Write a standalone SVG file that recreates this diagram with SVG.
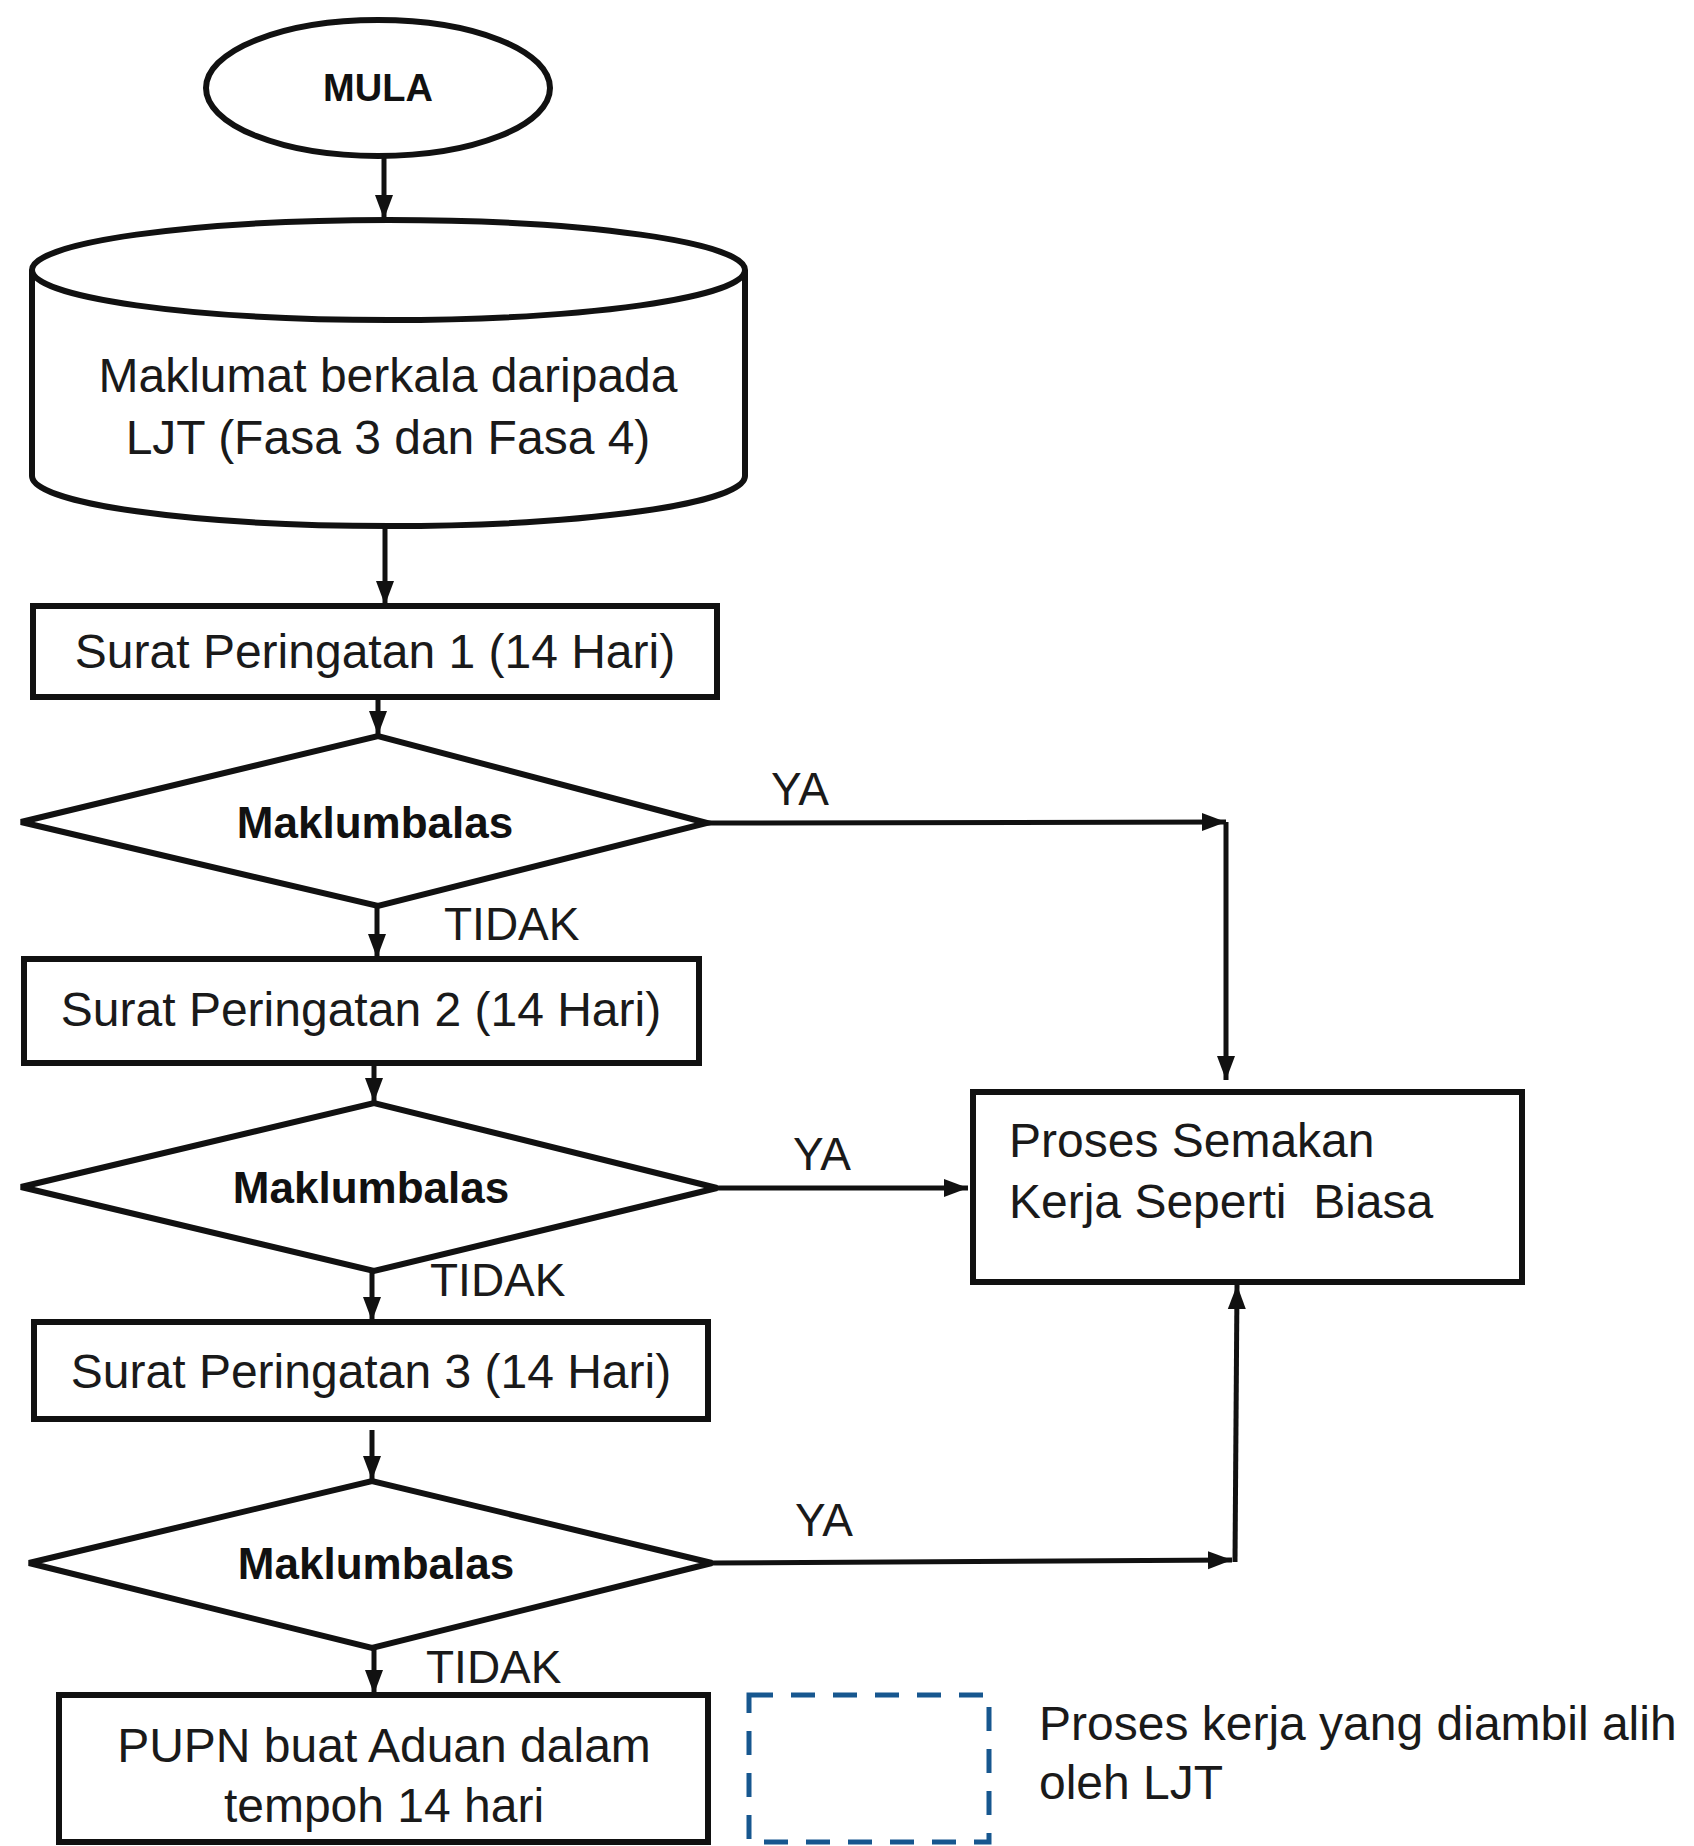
<svg xmlns="http://www.w3.org/2000/svg" width="1694" height="1846" viewBox="0 0 1694 1846">
<defs>
<style>
.shape{fill:#fff;stroke:#111;stroke-width:6}
.t{font-family:"Liberation Sans",Arial,sans-serif;font-size:48px;fill:#1a1a1a}
.c{text-anchor:middle}
.b{font-weight:bold;font-size:44px;fill:#111}
.lbl{font-family:"Liberation Sans",Arial,sans-serif;font-size:46px;fill:#1a1a1a}
.conn{fill:none;stroke:#111;stroke-width:5}
</style>
<marker id="ah" markerUnits="userSpaceOnUse" markerWidth="26" markerHeight="22" refX="24" refY="11" orient="auto">
<path d="M0,2 L24,11 L0,20 Z" fill="#111"/>
</marker>
</defs>
<rect width="1694" height="1846" fill="#fff"/>

<g id="connectors">
<line class="conn" x1="384" y1="157" x2="384" y2="219" marker-end="url(#ah)"/>
<line class="conn" x1="385" y1="527" x2="385" y2="605" marker-end="url(#ah)"/>
<line class="conn" x1="378" y1="698" x2="378" y2="735" marker-end="url(#ah)"/>
<line class="conn" x1="707" y1="823" x2="1226" y2="822" marker-end="url(#ah)"/>
<line class="conn" x1="1226" y1="822" x2="1226" y2="1080" marker-end="url(#ah)"/>
<line class="conn" x1="377" y1="906" x2="377" y2="958" marker-end="url(#ah)"/>
<line class="conn" x1="374" y1="1064" x2="374" y2="1102" marker-end="url(#ah)"/>
<line class="conn" x1="717" y1="1188" x2="968" y2="1188" marker-end="url(#ah)"/>
<line class="conn" x1="372" y1="1271" x2="372" y2="1321" marker-end="url(#ah)"/>
<line class="conn" x1="372" y1="1430" x2="372" y2="1480" marker-end="url(#ah)"/>
<line class="conn" x1="712" y1="1563" x2="1232" y2="1560" marker-end="url(#ah)"/>
<line class="conn" x1="1235" y1="1562" x2="1237" y2="1285" marker-end="url(#ah)"/>
<line class="conn" x1="374" y1="1648" x2="374" y2="1694" marker-end="url(#ah)"/>
<text class="lbl" x="771" y="805">YA</text>
<text class="lbl" x="793" y="1170">YA</text>
<text class="lbl" x="795" y="1536">YA</text>
<text class="lbl" x="444" y="940">TIDAK</text>
<text class="lbl" x="430" y="1296">TIDAK</text>
<text class="lbl" x="426" y="1683">TIDAK</text>
</g>

<g id="mula">
<ellipse class="shape" cx="378" cy="88" rx="172" ry="68"/>
<text class="t c b" x="378" y="101" style="font-size:38px">MULA</text>
</g>

<g id="maklumat">
<path class="shape" d="M32,270 L32,476 A356.5,50 0 0,0 745,476 L745,270"/>
<ellipse class="shape" cx="388.5" cy="270" rx="356.5" ry="50"/>
<text class="t c" x="388" y="392">Maklumat berkala daripada</text>
<text class="t c" x="388" y="454">LJT (Fasa 3 dan Fasa 4)</text>
</g>

<g id="sp1">
<rect class="shape" x="33" y="606" width="684" height="91"/>
<text class="t c" x="375" y="668">Surat Peringatan 1 (14 Hari)</text>
</g>

<g id="dec1">
<polygon class="shape" points="21,822 378,736 707,823 378,906"/>
<text class="t c b" x="375" y="838">Maklumbalas</text>
</g>

<g id="sp2">
<rect class="shape" x="24" y="959" width="675" height="104"/>
<text class="t c" x="361" y="1026">Surat Peringatan 2 (14 Hari)</text>
</g>

<g id="dec2">
<polygon class="shape" points="21,1187 374,1103 717,1188 374,1271"/>
<text class="t c b" x="371" y="1203">Maklumbalas</text>
</g>

<g id="proses">
<rect class="shape" x="973" y="1092" width="549" height="190"/>
<text class="t" x="1009" y="1157">Proses Semakan</text>
<text class="t" x="1009" y="1218" style="white-space:pre">Kerja Seperti  Biasa</text>
</g>

<g id="sp3">
<rect class="shape" x="34" y="1322" width="674" height="97"/>
<text class="t c" x="371" y="1388">Surat Peringatan 3 (14 Hari)</text>
</g>

<g id="dec3">
<polygon class="shape" points="29,1563 372,1481 712,1563 372,1648"/>
<text class="t c b" x="376" y="1579">Maklumbalas</text>
</g>

<g id="pupn">
<rect class="shape" x="59" y="1695" width="649" height="147"/>
<text class="t c" x="384" y="1762">PUPN buat Aduan dalam</text>
<text class="t c" x="384" y="1822">tempoh 14 hari</text>
</g>

<g id="legend">
<rect x="749" y="1695" width="240" height="147" fill="none" stroke="#17578f" stroke-width="5" stroke-dasharray="24 18"/>
<text class="t" x="1039" y="1740">Proses kerja yang diambil alih</text>
<text class="t" x="1039" y="1799">oleh LJT</text>
</g>
</svg>
